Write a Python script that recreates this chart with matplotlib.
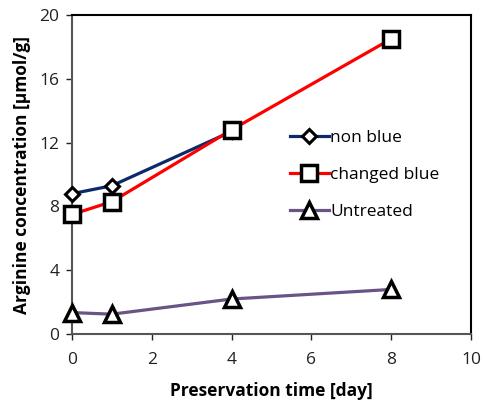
import matplotlib
matplotlib.use("Agg")
import matplotlib.pyplot as plt

plt.rcParams['font.family'] = ['Open Sans', 'DejaVu Sans']

days_nonblue = [0, 1, 4]
nonblue = [8.8, 9.3, 12.7]
days_changed = [0, 1, 4, 8]
changed = [7.5, 8.3, 12.8, 18.5]
days_untreated = [0, 1, 4, 8]
untreated = [1.35, 1.25, 2.2, 2.8]
xticks = [0, 2, 4, 6, 8, 10]
yticks = [0, 4, 8, 12, 16, 20]

fig = plt.figure(figsize=(4.83, 4.05), dpi=100)
ax = fig.add_axes([0.149, 0.175, 0.826, 0.788])

ax.plot(days_nonblue, nonblue, color='#0b2a6b', lw=2.3, marker='D', ms=7,
        mfc='white', mec='black', mew=2.2, label='non blue', clip_on=False, zorder=3)
ax.plot(days_changed, changed, color='#ff0000', lw=2.3, marker='s', ms=11,
        mfc='white', mec='black', mew=2.5, label='changed blue', clip_on=False, zorder=4)
ax.plot(days_untreated, untreated, color='#6a5385', lw=2.3, marker='^', ms=11,
        mfc='white', mec='black', mew=2.5, label='Untreated', clip_on=False, zorder=3)

ax.set_xlim(0, 10)
ax.set_ylim(0, 20)
ax.set_xticks(xticks)
ax.set_yticks(yticks)
ax.tick_params(direction='out', length=4, width=1, labelsize=12.5, colors='#222222')
ax.tick_params(axis='x', pad=9)
ax.tick_params(axis='y', pad=5)
for s in ['left', 'bottom']:
    ax.spines[s].set_color('#555555')
    ax.spines[s].set_linewidth(1.5)
for s in ['top', 'right']:
    ax.spines[s].set_color('black')
    ax.spines[s].set_linewidth(1.5)

ax.set_xlabel('Preservation time [day]', fontsize=12.5, fontweight='bold', labelpad=10)
ax.set_ylabel('Arginine concentration [μmol/g]', fontsize=12.5, fontweight='bold', labelpad=6)

leg = ax.legend(loc='center left', bbox_to_anchor=(0.53, 0.499), frameon=False,
                fontsize=12.5, handlelength=2.2, handletextpad=0.1,
                labelspacing=1.2, borderaxespad=0)

fig.savefig('out.png', dpi=100)
